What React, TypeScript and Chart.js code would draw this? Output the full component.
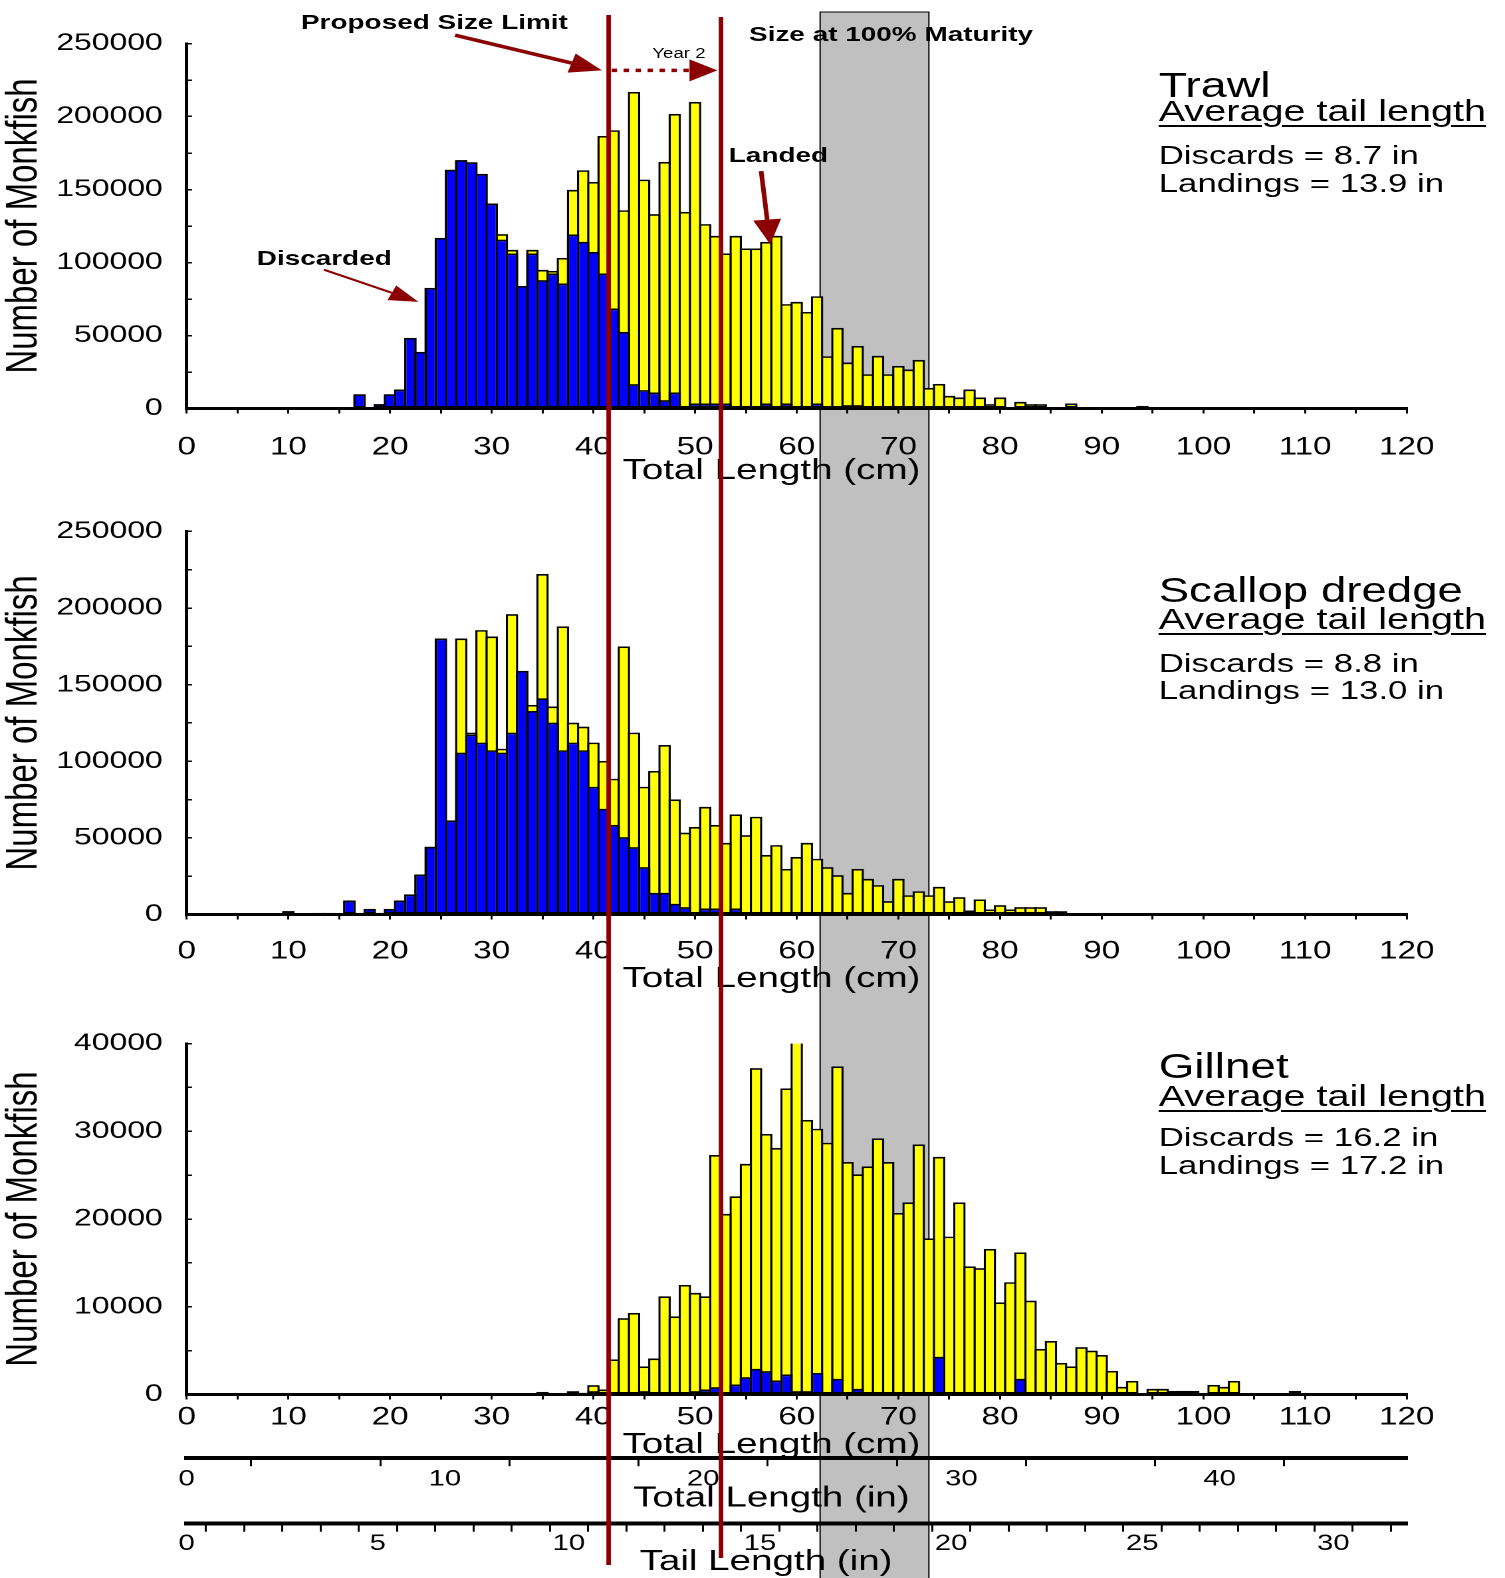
import React, { useEffect, useRef } from 'react';
import { Chart, registerables } from 'chart.js';

Chart.register(...registerables);
Chart.defaults.color = '#000';

// ---------------- data ----------------
const lengthBins = [
  10, 11, 12, 13, 14, 15, 16, 17, 18, 19,
  20, 21, 22, 23, 24, 25, 26, 27, 28, 29,
  30, 31, 32, 33, 34, 35, 36, 37, 38, 39,
  40, 41, 42, 43, 44, 45, 46, 47, 48, 49,
  50, 51, 52, 53, 54, 55, 56, 57, 58, 59,
  60, 61, 62, 63, 64, 65, 66, 67, 68, 69,
  70, 71, 72, 73, 74, 75, 76, 77, 78, 79,
  80, 81, 82, 83, 84, 85, 86, 87, 88, 89,
  90, 91, 92, 93, 94, 95, 96, 97, 98, 99,
  100, 101, 102, 103, 104, 105, 106, 107, 108, 109, 110,
];

// Trawl: total catch (landed + discarded) and discarded, per 1 cm bin
const trawlTotal = [
  0, 0, 0, 0, 0, 0, 0, 9800, 0, 3000,
  9800, 13000, 48400, 38800, 82600, 116900, 163500, 170100, 168700, 160700,
  140400, 119400, 108700, 84000, 108700, 95000, 94300, 103200, 149800, 163200,
  155200, 186700, 190600, 135800, 216900, 156800, 133100, 168900, 201800, 134700,
  210000, 126300, 118300, 106200, 118300, 109600, 109600, 114100, 118300, 71500,
  73100, 66200, 76900, 35800, 55200, 31500, 42900, 23500, 36100, 23500,
  29200, 26700, 33300, 14100, 16900, 8700, 7500, 13000, 7500, 3000,
  7500, 0, 4600, 3000, 3000, 0, 0, 3400, 0, 0,
  0, 0, 0, 0, 1800, 0, 0, 0, 0, 0,
  0, 0, 0, 0, 0, 0, 0, 0, 0, 0, 0,
];
const trawlDiscarded = [
  0, 0, 0, 0, 0, 0, 0, 9800, 0, 3000,
  9800, 13000, 48400, 38800, 82600, 116900, 163500, 170100, 168700, 160700,
  140400, 115700, 106200, 84000, 106200, 87900, 92500, 85600, 119200, 114200,
  107300, 92500, 68500, 52500, 16700, 12600, 11000, 5700, 11000, 1800,
  3400, 3400, 3400, 3400, 500, 1800, 500, 3400, 1800, 3400,
  1800, 1800, 3400, 0, 0, 2300, 2300, 0, 0, 0,
  0, 0, 0, 0, 0, 1100, 0, 0, 0, 0,
  0, 0, 0, 0, 0, 0, 0, 0, 0, 0,
  0, 0, 0, 0, 0, 0, 0, 0, 0, 0,
  0, 0, 0, 0, 0, 0, 0, 0, 0, 0, 0,
];

// Scallop dredge
const scallopTotal = [
  2200, 0, 0, 1100, 1100, 0, 9100, 1100, 3700, 1100,
  3700, 9100, 13100, 26100, 44200, 180100, 61400, 180100, 118700, 185600,
  181400, 108200, 196000, 159000, 136800, 222200, 135700, 188000, 125200, 122600,
  112200, 100200, 88600, 174900, 118700, 83400, 93700, 110600, 75100, 53400,
  57100, 70300, 58400, 46800, 65300, 51800, 63800, 38800, 45300, 29800,
  37500, 46800, 36400, 30900, 25700, 14200, 29800, 23300, 19200, 8700,
  23300, 12600, 15200, 12600, 18100, 8700, 11300, 2600, 9800, 3300,
  6100, 3300, 4800, 4800, 4800, 2200, 2200, 0, 0, 0,
  1100, 0, 0, 0, 0, 0, 0, 0, 0, 0,
  0, 0, 0, 0, 0, 0, 0, 0, 0, 0, 0,
];
const scallopDiscarded = [
  2200, 0, 0, 1100, 1100, 0, 9100, 1100, 3700, 1100,
  3700, 9100, 13100, 26100, 44200, 180100, 61400, 105600, 117500, 112200,
  107200, 105600, 118700, 159000, 132900, 141100, 125200, 107200, 112200, 107200,
  83400, 69000, 58400, 50500, 44000, 30900, 14200, 14200, 7000, 4800,
  0, 3900, 3900, 0, 3900, 0, 0, 0, 0, 0,
  0, 0, 0, 0, 0, 0, 0, 0, 0, 0,
  0, 0, 0, 0, 0, 0, 0, 0, 0, 0,
  0, 0, 0, 0, 0, 0, 0, 0, 0, 0,
  0, 0, 0, 0, 0, 0, 0, 0, 0, 0,
  0, 0, 0, 0, 0, 0, 0, 0, 0, 0, 0,
];

// Gillnet
const gillnetTotal = [
  0, 0, 0, 0, 0, 0, 0, 0, 0, 0,
  0, 0, 0, 0, 0, 0, 0, 0, 0, 0,
  0, 0, 0, 0, 0, 300, 0, 0, 380, 200,
  1070, 570, 4000, 8700, 9300, 3200, 4100, 11200, 8900, 12500,
  11600, 11200, 27300, 20600, 22600, 26300, 37200, 29700, 28100, 34900,
  40200, 31300, 30300, 28700, 37400, 26500, 25100, 26000, 29200, 26500,
  20700, 21900, 28500, 17800, 27100, 18000, 21900, 14600, 14400, 16600,
  10500, 12800, 16200, 10700, 5200, 6100, 3600, 3200, 5400, 5000,
  4500, 2700, 880, 1560, 190, 650, 650, 420, 420, 420,
  190, 1100, 880, 1560, 0, 0, 0, 0, 0, 420, 0,
];
const gillnetDiscarded = [
  0, 0, 0, 0, 0, 0, 0, 0, 0, 0,
  0, 0, 0, 0, 0, 0, 0, 0, 0, 0,
  0, 0, 0, 0, 0, 0, 0, 0, 0, 0,
  380, 0, 0, 190, 0, 380, 0, 190, 190, 190,
  380, 570, 840, 0, 1140, 1980, 2930, 2660, 1600, 2280,
  380, 380, 2470, 0, 1790, 0, 650, 190, 0, 0,
  0, 0, 0, 190, 4300, 0, 0, 0, 0, 0,
  0, 0, 1790, 0, 190, 0, 0, 0, 0, 0,
  0, 0, 0, 0, 0, 0, 0, 0, 0, 0,
  0, 0, 0, 0, 0, 0, 0, 0, 0, 0, 0,
];

const gearNames = ['Trawl', 'Scallop dredge', 'Gillnet'];
const avgTailDiscardsIn = [8.7, 8.8, 16.2];
const avgTailLandingsIn = [13.9, 13.0, 17.2];
const yAxisMax = [250000, 250000, 40000];
const yAxisMinorStep = [25000, 25000, 5000];
const yAxisLabelStep = [50000, 50000, 10000];

const lengthAxisMaxCm = 120;
const cmPerInch = 2.54;
const tailLengthAxisMaxIn = 31.92;
const proposedLimitCm = [41.5, 52.55];
const maturityBandCm = [62.3, 73.0];

// ---------------- styling ----------------
const FONT = "'Liberation Sans', Arial, Helvetica, sans-serif";
const INNER_W = 1132;
const STRETCH = 1505 / INNER_W;
const RED = '#8B0000';
const BAR_BORDER = 1.7;
// the axis titles sit a little left of the axis centre in the original
const TITLE_SHIFT = '    \u2009';

// arrows in chart 1 (data coordinates: cm, number of fish)
const annotationArrows = [
  { from: [26.4, 255700], to: [40.85, 231600], shaft: 3.5, head: 24, width: 20, dotted: false },
  { from: [41.8, 231600], to: [52.2, 231600], shaft: 3.5, head: 21, width: 22, dotted: true },
  { from: [56.5, 162600], to: [57.4, 112300], shaft: 3.5, head: 25, width: 21, dotted: false },
  { from: [13.5, 95100], to: [22.8, 73000], shaft: 2, head: 22, width: 16, dotted: false },
];

function drawArrow(ctx: CanvasRenderingContext2D, x1: number, y1: number, x2: number, y2: number, a: any) {
  const ang = Math.atan2(y2 - y1, x2 - x1);
  const bx = x2 - a.head * Math.cos(ang);
  const by = y2 - a.head * Math.sin(ang);
  ctx.save();
  ctx.strokeStyle = RED;
  ctx.lineWidth = a.shaft;
  ctx.setLineDash(a.dotted ? [4, 5] : []);
  ctx.beginPath();
  ctx.moveTo(x1, y1);
  ctx.lineTo(bx, by);
  ctx.stroke();
  ctx.setLineDash([]);
  ctx.fillStyle = RED;
  ctx.beginPath();
  ctx.moveTo(x2, y2);
  ctx.lineTo(bx + (a.width / 2) * Math.sin(ang), by - (a.width / 2) * Math.cos(ang));
  ctx.lineTo(bx - (a.width / 2) * Math.sin(ang), by + (a.width / 2) * Math.cos(ang));
  ctx.closePath();
  ctx.fill();
  ctx.restore();
}

const overlayPlugin = {
  id: 'overlay',
  beforeDraw(chart: any, _args: any, opts: any) {
    const { ctx } = chart;
    const x = chart.scales.x;
    const x0 = x.getPixelForValue(maturityBandCm[0]);
    const x1 = x.getPixelForValue(maturityBandCm[1]);
    const top = opts.bandTop ?? 0;
    const bottom = chart.height;
    ctx.save();
    ctx.fillStyle = '#C0C0C0';
    ctx.fillRect(x0, top, x1 - x0, bottom - top);
    ctx.strokeStyle = '#000';
    ctx.lineWidth = 1;
    ctx.beginPath();
    ctx.moveTo(x0, bottom);
    ctx.lineTo(x0, top);
    if (opts.bandTop != null) ctx.lineTo(x1, top);
    else ctx.moveTo(x1, top);
    ctx.lineTo(x1, bottom);
    ctx.stroke();
    ctx.restore();
  },
  afterDraw(chart: any, _args: any, opts: any) {
    const { ctx } = chart;
    const x = chart.scales.x;
    const y = chart.scales.y;
    if (opts.arrows) {
      for (const a of opts.arrows) {
        drawArrow(
          ctx,
          x.getPixelForValue(a.from[0]), y.getPixelForValue(a.from[1]),
          x.getPixelForValue(a.to[0]), y.getPixelForValue(a.to[1]),
          a,
        );
      }
    }
    ctx.save();
    ctx.strokeStyle = RED;
    ctx.lineWidth = 3.4;
    proposedLimitCm.forEach((cm, i) => {
      const px = x.getPixelForValue(cm);
      const t = opts.redTop ? opts.redTop[i] : 0;
      const b = opts.redBottom ? opts.redBottom[i] : chart.height;
      ctx.beginPath();
      ctx.moveTo(px, t);
      ctx.lineTo(px, b);
      ctx.stroke();
    });
    ctx.restore();
  },
};

function buildConfig(p: any): any {
  const titleFont = { family: FONT, size: 29, lineHeight: 1.2 };
  const scales: any = {
    x: {
      type: 'linear', position: 'bottom', weight: 0, min: 0, max: lengthAxisMaxCm,
      bounds: 'data', offset: false,
      grid: { display: true, drawOnChartArea: false, drawTicks: true, tickLength: 5, color: '#000', lineWidth: 1.5, offset: false },
      border: { display: true, color: '#000', width: 3 },
      ticks: {
        stepSize: 5, autoSkip: false, maxRotation: 0, minRotation: 0, includeBounds: false, maxTicksLimit: 1000,
        padding: p.xTickPad, color: '#000', font: { family: FONT, size: 25 },
        callback: (v: number) => (v % 10 === 0 ? String(v) : ''),
      },
      title: { display: true, text: 'Total Length (cm)' + TITLE_SHIFT, color: '#000', font: titleFont, padding: { top: 0, bottom: p.xTitlePad } },
      afterFit: (s: any) => { s.height = p.xAxisHeight; },
    },
    y: {
      type: 'linear', position: 'left', min: 0, max: p.yMax, bounds: 'data',
      grid: { display: true, drawOnChartArea: false, drawTicks: true, tickLength: -4, color: '#000', lineWidth: 1.5 },
      border: { display: true, color: '#000', width: 2.5 },
      ticks: {
        stepSize: p.yStep, autoSkip: false, maxTicksLimit: 1000, padding: 22, color: '#000',
        font: { family: FONT, size: 24 },
        callback: (v: number) => (v % p.yLabelStep === 0 ? String(v) : ''),
      },
      title: { display: true, text: 'Number of Monkfish', color: '#000', font: { family: FONT, size: 33, lineHeight: 1.2 }, padding: { top: -1.5, bottom: 0 } },
      afterFit: (s: any) => { s.width = 140.4; },
    },
  };
  if (p.extraAxes) {
    scales.xIn = {
      type: 'linear', position: 'bottom', weight: 1, min: 0, max: lengthAxisMaxCm / cmPerInch, bounds: 'data', offset: false,
      grid: { display: true, drawOnChartArea: false, drawTicks: true, tickLength: 8, color: '#000', lineWidth: 1.5 },
      border: { display: true, color: '#000', width: 4 },
      ticks: {
        stepSize: 5, autoSkip: false, maxRotation: 0, includeBounds: false, maxTicksLimit: 1000,
        padding: 0, color: '#000', font: { family: FONT, size: 22 },
        callback: (v: number) => (Math.abs(v % 10) < 1e-6 ? String(Math.round(v)) : ''),
      },
      title: { display: true, text: 'Total Length (in)' + TITLE_SHIFT, color: '#000', font: titleFont, padding: { top: 0, bottom: 7.8 } },
      afterFit: (s: any) => { s.height = 65.5; },
    };
    scales.xTail = {
      type: 'linear', position: 'bottom', weight: 2, min: 0, max: tailLengthAxisMaxIn, bounds: 'data', offset: false,
      grid: { display: true, drawOnChartArea: false, drawTicks: true, tickLength: 8, color: '#000', lineWidth: 1.5 },
      border: { display: true, color: '#000', width: 4 },
      ticks: {
        stepSize: 1, autoSkip: false, maxRotation: 0, includeBounds: false, maxTicksLimit: 1000,
        padding: -1.1, color: '#000', font: { family: FONT, size: 22 },
        callback: (v: number) => (Math.abs(v % 5) < 1e-6 ? String(Math.round(v)) : ''),
      },
      title: { display: true, text: 'Tail Length (in)' + TITLE_SHIFT + ' ', color: '#000', font: titleFont, padding: { top: 0, bottom: -1.4 } },
      afterFit: (s: any) => { s.height = 54.3; },
    };
  }
  const barCommon = {
    xAxisID: 'x', yAxisID: 'y', borderColor: '#000', borderWidth: BAR_BORDER, borderSkipped: false,
    grouped: false, barPercentage: 1.22, categoryPercentage: 1,
  };
  return {
    type: 'bar',
    data: {
      labels: lengthBins,
      datasets: [
        { ...barCommon, label: 'Discarded', data: p.discarded, backgroundColor: '#0000FF' },
        { ...barCommon, label: 'Landed', data: p.total, backgroundColor: '#FFFF00' },
      ],
    },
    options: {
      responsive: false,
      animation: false,
      devicePixelRatio: 2,
      events: [],
      layout: { padding: { top: p.padTop, left: 0, right: 73.9, bottom: 0 } },
      scales,
      plugins: {
        legend: { display: false },
        tooltip: { enabled: false },
        title: { display: false },
        overlay: { bandTop: p.bandTop, redTop: p.redTop, redBottom: p.redBottom, arrows: p.arrows },
      },
    },
    plugins: [overlayPlugin],
  };
}

const panels = [
  {
    canvasTop: 0, canvasHeight: 495, padTop: 43.5, xAxisHeight: 86.5, xTickPad: 18.9, xTitlePad: 6.6,
    total: trawlTotal, discarded: trawlDiscarded, bandTop: 12, redTop: [15, 17], arrows: annotationArrows,
  },
  {
    canvasTop: 495, canvasHeight: 505, padTop: 36.4, xAxisHeight: 85.5, xTickPad: 17.1, xTitlePad: 3.4,
    total: scallopTotal, discarded: scallopDiscarded,
  },
  {
    canvasTop: 1000, canvasHeight: 578, padTop: 43.6, xAxisHeight: 63.7, xTickPad: 3.1, xTitlePad: -4.3,
    total: gillnetTotal, discarded: gillnetDiscarded, extraAxes: true, redBottom: [565, 558],
  },
].map((p, i) => ({ ...p, yMax: yAxisMax[i], yStep: yAxisMinorStep[i], yLabelStep: yAxisLabelStep[i] }));

const gearBlockY = [
  [84, 110.2, 154.5, 182.7],
  [590.2, 618.4, 662.7, 689.9],
  [1066.3, 1095.5, 1136.7, 1164.9],
];

function Label(props: { text: string; x: number; y: number; size: number; bold?: boolean; underline?: boolean }) {
  const { text, x, y, size, bold, underline } = props;
  return (
    <div
      style={{
        position: 'absolute', left: x, top: y - size * 0.49, fontSize: size, lineHeight: 1,
        fontFamily: FONT, fontWeight: bold ? 700 : 400, whiteSpace: 'nowrap', color: '#000',
        textDecoration: underline ? 'underline' : 'none', textDecorationThickness: '2px', textUnderlineOffset: '4px',
        zIndex: 5,
      }}
    >
      {text}
    </div>
  );
}

export default function App() {
  const r0 = useRef<HTMLCanvasElement>(null);
  const r1 = useRef<HTMLCanvasElement>(null);
  const r2 = useRef<HTMLCanvasElement>(null);
  const refs = [r0, r1, r2];

  useEffect(() => {
    const charts = panels.map((p, i) => new Chart(refs[i].current as HTMLCanvasElement, buildConfig(p)));
    return () => charts.forEach((c) => c.destroy());
  }, []);

  const blockX = 871.5;
  const gearSizes = [35, 34.3, 34.5];
  return (
    <div style={{ position: 'absolute', left: 0, top: 0, width: 1505, height: 1578, overflow: 'hidden', background: '#fff' }}>
      <div style={{ position: 'absolute', left: 0, top: 0, width: INNER_W, height: 1578, transform: `scaleX(${STRETCH})`, transformOrigin: '0 0' }}>
        {panels.map((p, i) => (
          <canvas key={i} ref={refs[i]} width={INNER_W} height={p.canvasHeight} style={{ position: 'absolute', left: 0, top: p.canvasTop }} />
        ))}
        <Label text="Proposed Size Limit" x={226.4} y={21} size={21} bold />
        <Label text="Year 2" x={490.7} y={53} size={14} />
        <Label text="Size at 100% Maturity" x={563.4} y={33.2} size={21} bold />
        <Label text="Landed" x={548.2} y={154} size={21} bold />
        <Label text="Discarded" x={193.1} y={257.6} size={21} bold />
        {gearNames.map((g, i) => (
          <React.Fragment key={g}>
            <Label text={g} x={blockX} y={gearBlockY[i][0]} size={gearSizes[i]} />
            <Label text="Average tail length" x={blockX} y={gearBlockY[i][1]} size={29.8} underline />
            <Label text={`Discards = ${avgTailDiscardsIn[i].toFixed(1)} in`} x={blockX} y={gearBlockY[i][2]} size={26.2} />
            <Label text={`Landings = ${avgTailLandingsIn[i].toFixed(1)} in`} x={blockX} y={gearBlockY[i][3]} size={26.2} />
          </React.Fragment>
        ))}
      </div>
    </div>
  );
}
